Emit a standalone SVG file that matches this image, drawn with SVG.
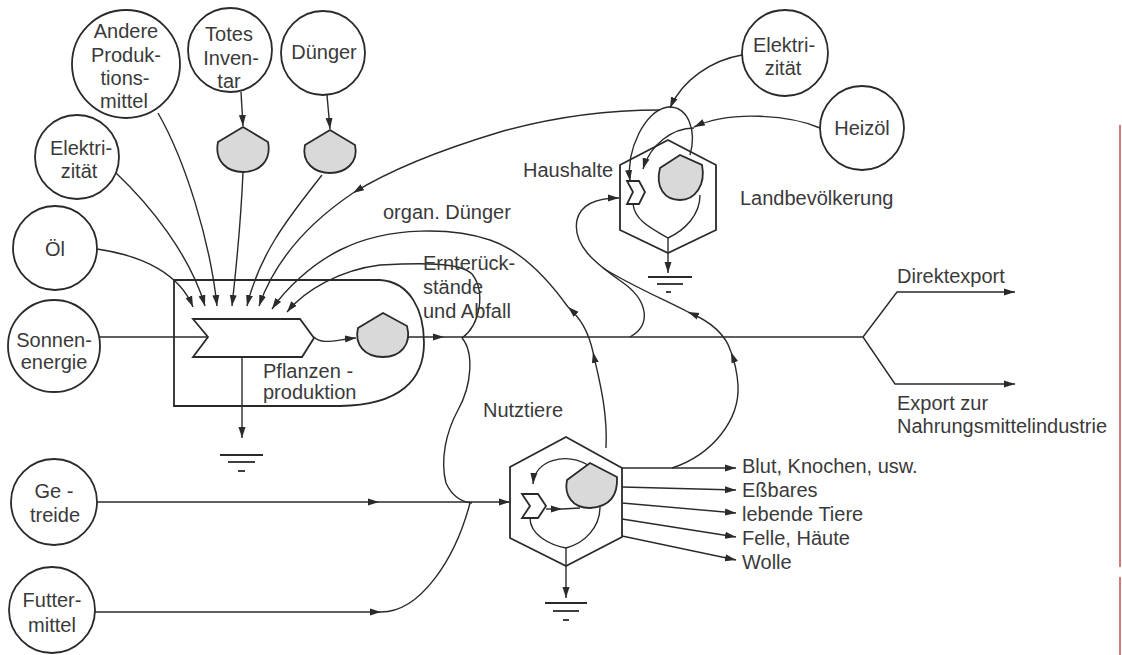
<svg xmlns="http://www.w3.org/2000/svg" width="1122" height="655" viewBox="0 0 1122 655">
<defs>
<marker id="a" markerWidth="12" markerHeight="8" refX="11" refY="4" orient="auto" markerUnits="userSpaceOnUse"><path d="M0,0.5 L11,4 L0,7.5 Z" fill="#2a2a2a"/></marker>
<style>
.c{fill:#fff;stroke:#2a2a2a;stroke-width:1.8}
.s{fill:none;stroke:#2a2a2a;stroke-width:1.8}
.l{fill:none;stroke:#2a2a2a;stroke-width:1.4}
.ar{fill:none;stroke:#2a2a2a;stroke-width:1.4;marker-end:url(#a)}
.t{fill:#d9d9d9;stroke:#2a2a2a;stroke-width:1.8}
.g{stroke:#2a2a2a;stroke-width:1.8}
text{font-family:"Liberation Sans",Arial,sans-serif;font-size:20px;fill:#3a3a3a}
.m{text-anchor:middle}
</style>
</defs>
<rect width="1122" height="655" fill="#fff"/>

<g id="connectors">
<!-- inputs to plant production -->
<path class="ar" d="M97,249 C145,256 180,275 193,307"/>
<path class="ar" d="M116,173 C150,205 190,255 205,306"/>
<path class="ar" d="M158,113 C185,160 210,240 217,306"/>
<path class="ar" d="M243,172 C241,220 236,270 232,306"/>
<path class="ar" d="M322,175 C295,210 260,250 247,306"/>
<path class="ar" d="M241,92 L243,126"/>
<path class="ar" d="M327,95 L330,129"/>
<path class="ar" d="M660,110 C610,110 560,115 500,132 C440,150 390,170 353,193"/>
<path class="ar" d="M353,193 C310,222 275,260 259,306"/>
<!-- organ. Duenger -->
<path class="ar" d="M606,448 C608,410 598,375 593,352"/>
<path class="ar" d="M593,352 C588,330 580,318 568,307"/>
<path class="ar" d="M568,307 C545,275 520,250 490,240 C455,228 390,225 340,250 C310,265 285,290 272,309"/>
<!-- Ernterueckstaende -->
<path class="ar" d="M462,338 C480,325 486,292 472,274 C460,262 420,263 380,265 C340,270 305,290 287,312"/>
<!-- sun and workgate -->
<path class="l" d="M100,337 L208,337"/>
<path class="ar" d="M314,337 C322,345 335,340 356,338"/>
<path class="ar" d="M242,357 L242,438"/>
<!-- main flow -->
<path class="ar" d="M408,337 L444,337"/>
<path class="l" d="M444,337 L863,337"/>
<path class="ar" d="M863,337 L897,292 L1015,292"/>
<path class="ar" d="M863,337 L895,384 L1015,384"/>
<!-- Getreide / Futtermittel -->
<path class="ar" d="M97,502 L379,502"/>
<path class="ar" d="M379,502 L510,502"/>
<path class="ar" d="M95,612 L381,612"/>
<path class="l" d="M381,612 C420,612 455,560 470,503"/>
<path class="l" d="M462,338 C474,352 472,385 458,410 C446,432 440,460 446,483 C452,496 462,502 472,503"/>
<!-- Nutztiere outputs -->
<path class="ar" d="M622,468 L736,468"/>
<path class="ar" d="M622,487 L736,490"/>
<path class="ar" d="M622,503 L736,513"/>
<path class="ar" d="M622,519 L736,537"/>
<path class="ar" d="M622,536 L736,560"/>
<path class="ar" d="M672,468 C712,455 740,420 738,385 C737,370 734,360 731,352"/>
<path class="ar" d="M731,352 C726,335 712,322 688,312"/>
<path class="l" d="M688,312 C665,300 630,285 603,268"/>
<!-- to Haushalte -->
<path class="ar" d="M630,337 C652,325 648,300 622,282 C595,263 572,245 577,220 C581,203 598,198 619,198"/>
<path class="ar" d="M742,55 C712,60 682,80 670,108"/>
<path class="ar" d="M820,128 C790,115 730,110 694,127"/>
<path class="ar" d="M690,155 C697,130 688,106 668,107 C645,110 626,150 630,181"/>
<path class="ar" d="M694,128 C672,128 650,145 643,169"/>
</g>

<g id="andere"><circle class="c" cx="126" cy="64" r="54"/>
<text class="m" x="126" y="38">Andere</text><text class="m" x="126" y="62">Produk-</text><text class="m" x="125" y="85">tions-</text><text class="m" x="124" y="108">mittel</text></g>
<g id="totes"><circle class="c" cx="230" cy="50" r="42"/>
<text class="m" x="229" y="41">Totes</text><text class="m" x="231" y="65">Inven-</text><text class="m" x="229" y="88">tar</text></g>
<g id="duenger"><circle class="c" cx="323" cy="53" r="42"/><text class="m" x="324" y="59">Dünger</text></g>
<g id="tank-totes"><path class="t" d="M218,142 L243,127 L268,142 C272,162 258,172 243,172 C228,172 214,162 218,142 Z"/></g>
<g id="tank-duenger"><path class="t" d="M305,145 L330,130 L355,145 C359,163 345,173 330,173 C315,173 301,163 305,145 Z"/></g>
<g id="elek1"><circle class="c" cx="77" cy="157" r="42"/><text class="m" x="81" y="155">Elektri-</text><text class="m" x="79" y="178">zität</text></g>
<g id="oel"><circle class="c" cx="55" cy="248" r="42"/><text class="m" x="55" y="256">Öl</text></g>
<g id="sonne"><circle class="c" cx="54" cy="346" r="46"/><text class="m" x="54" y="347">Sonnen-</text><text class="m" x="54" y="369">energie</text></g>
<g id="getreide"><circle class="c" cx="54" cy="502" r="43"/><text class="m" x="54" y="498">Ge -</text><text class="m" x="55" y="522">treide</text></g>
<g id="futter"><circle class="c" cx="52" cy="610" r="43"/><text class="m" x="52" y="607">Futter-</text><text class="m" x="52" y="632">mittel</text></g>
<g id="elek2"><circle class="c" cx="785" cy="53" r="43"/><text class="m" x="784" y="52">Elektri-</text><text class="m" x="783" y="75">zität</text></g>
<g id="heizoel"><circle class="c" cx="862" cy="128" r="42"/><text class="m" x="862" y="135">Heizöl</text></g>

<g id="pflanzen">
<path class="s" d="M174,280 H380 C410,282 424,310 424,343 C424,380 400,405 340,406 H174 Z"/>
<path class="c" d="M193,319 L300,319 L314,338 L302,357 L193,357 L208,337 Z"/>
<path class="t" d="M358,328 L383,313 L407,326 C412,345 400,357 383,357 C365,357 354,345 358,328 Z"/>
<line class="g" x1="220" y1="455" x2="263" y2="455"/><line class="g" x1="228" y1="462" x2="255" y2="462"/><line class="g" x1="238" y1="471" x2="245" y2="471"/>
<text x="263" y="378">Pflanzen -</text><text x="263" y="399">produktion</text>
</g>

<g id="haushalte">
<path class="s" d="M668,140 L716,165 L716,230 L668,253 L620,230 L620,165 Z"/>
<path class="t" d="M660,168 L680,155 L702,165 C706,185 695,200 680,200 C665,200 655,188 660,168 Z"/>
<path class="c" d="M627,181 L639,181 L645,192 L639,204 L627,204 L633,192 Z"/>
<path class="l" d="M633,204 C635,222 655,230 668,238"/>
<path class="l" d="M700,195 C700,215 685,230 668,238"/>
<path class="ar" d="M668,238 L668,273"/>
<line class="g" x1="648" y1="277" x2="692" y2="277"/><line class="g" x1="657" y1="284" x2="683" y2="284"/><line class="g" x1="666" y1="292" x2="671" y2="292"/>
<text x="523" y="177">Haushalte</text>
<text x="740" y="205">Landbevölkerung</text>
</g>

<g id="nutztiere">
<path class="s" d="M566,437 L622,468 L622,537 L566,566 L510,538 L510,467 Z"/>
<path class="t" d="M567,480 L590,463 L617,477 C618,495 610,507 590,508 C572,508 564,495 567,480 Z"/>
<path class="c" d="M522,494 L538,494 L546,506 L538,518 L522,518 L530,506 Z"/>
<path class="ar" d="M546,509 L562,509"/>
<path class="l" d="M562,509 L580,508"/>
<path class="ar" d="M588,465 C565,452 535,460 533,484"/>
<path class="l" d="M530,518 C530,535 550,545 566,548"/>
<path class="l" d="M600,507 C600,527 585,543 566,548"/>
<path class="ar" d="M566,548 L566,598"/>
<line class="g" x1="545" y1="603" x2="587" y2="603"/><line class="g" x1="553" y1="611" x2="579" y2="611"/><line class="g" x1="563" y1="620" x2="569" y2="620"/>
<text x="483" y="417">Nutztiere</text>
</g>

<g id="labels">
<text x="383" y="219">organ. Dünger</text>
<text x="423" y="270">Ernterück-</text><text x="423" y="294">stände</text><text x="423" y="318">und Abfall</text>
<text x="742" y="473">Blut, Knochen, usw.</text>
<text x="742" y="497">Eßbares</text>
<text x="742" y="521">lebende Tiere</text>
<text x="742" y="545">Felle, Häute</text>
<text x="742" y="569">Wolle</text>
<text x="897" y="283">Direktexport</text>
<text x="897" y="410">Export zur</text>
<text x="897" y="433">Nahrungsmittelindustrie</text>
</g>

<g id="border"><line x1="1120" y1="125" x2="1120" y2="567" stroke="#c05050" stroke-width="1.5"/><line x1="1120" y1="577" x2="1120" y2="655" stroke="#c05050" stroke-width="1.5"/></g>
</svg>
